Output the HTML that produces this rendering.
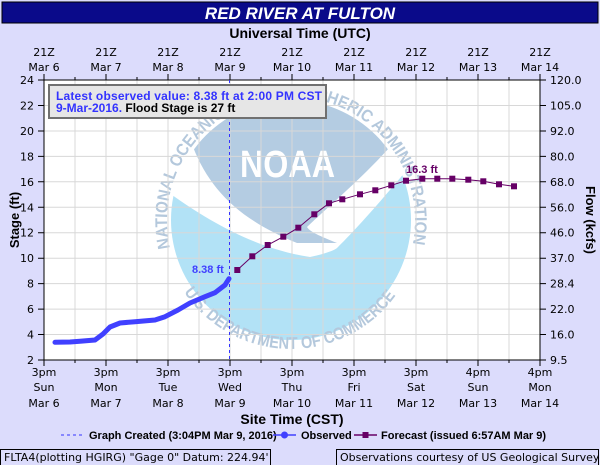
<!DOCTYPE html>
<html><head><meta charset="utf-8"><style>
body{margin:0;background:#dcdcfc;}
svg{display:block;font-family:"DejaVu Sans","Liberation Sans",sans-serif;}
</style></head><body>
<svg width="600" height="465" viewBox="0 0 600 465" xmlns="http://www.w3.org/2000/svg">
<rect width="600" height="465" fill="#dcdcfc"/>
<rect x="2" y="2" width="596" height="21" fill="#0a0a8a" stroke="#000" stroke-width="1"/>
<text x="300" y="19" font-family="Liberation Sans,sans-serif" font-size="17" font-weight="bold" font-style="italic" fill="#fff" text-anchor="middle">RED RIVER AT FULTON</text>
<text x="300" y="38" font-family="Liberation Sans,sans-serif" font-size="14" font-weight="bold" fill="#000" text-anchor="middle">Universal Time (UTC)</text>
<g font-size="11" fill="#000" text-anchor="middle">
<text x="44" y="56">21Z</text><text x="44" y="71">Mar  6</text>
<text x="106" y="56">21Z</text><text x="106" y="71">Mar  7</text>
<text x="168" y="56">21Z</text><text x="168" y="71">Mar  8</text>
<text x="230" y="56">21Z</text><text x="230" y="71">Mar  9</text>
<text x="292" y="56">21Z</text><text x="292" y="71">Mar 10</text>
<text x="354" y="56">21Z</text><text x="354" y="71">Mar 11</text>
<text x="416" y="56">21Z</text><text x="416" y="71">Mar 12</text>
<text x="478" y="56">21Z</text><text x="478" y="71">Mar 13</text>
<text x="540" y="56">21Z</text><text x="540" y="71">Mar 14</text>
</g>
<rect x="44" y="80" width="496" height="280" fill="#fff"/>
<defs>
<clipPath id="disc"><circle cx="291" cy="220" r="120"/></clipPath>
<path id="arcTop" d="M170,248 A124,124 0 1 1 412,248"/>
<path id="arcBot" d="M184,292 A129,129 0 0 0 398,292"/>
</defs>
<g clip-path="url(#disc)">
<path d="M193,147 C210,190 240,220 297,243 L337,243 C320,236 310,232 307,227 C330,205 360,180 390,147 L415,147 L415,95 L165,95 L165,147 Z" fill="#b4cce2"/>
<path d="M165,190 C200,215 250,248 310,257 C325,254 335,250 337,248 C345,240 370,215 415,160 L415,345 L165,345 Z" fill="#b2e2f6"/>
</g>
<text x="240" y="177" font-family="Liberation Sans,sans-serif" font-size="38" font-weight="bold" fill="#fff" textLength="95" lengthAdjust="spacingAndGlyphs">NOAA</text>
<g font-family="Liberation Sans,sans-serif" font-size="17" font-weight="bold" fill="#b4c8dc">
<text><textPath href="#arcTop" textLength="440" lengthAdjust="spacingAndGlyphs">NATIONAL OCEANIC AND ATMOSPHERIC ADMINISTRATION</textPath></text>
<text><textPath href="#arcBot" textLength="248" lengthAdjust="spacingAndGlyphs">U.S. DEPARTMENT OF COMMERCE</textPath></text>
</g>
<g stroke="#d8d8d8" stroke-width="1">
<path d="M75,80V360M106,80V360M137,80V360M168,80V360M199,80V360M230,80V360M261,80V360M292,80V360M323,80V360M354,80V360M385,80V360M416,80V360M447,80V360M478,80V360M509,80V360"/>
<path d="M44,105.5H540M44,131H540M44,156.4H540M44,181.8H540M44,207.3H540M44,232.7H540M44,258.2H540M44,283.6H540M44,309.1H540M44,334.5H540"/>
</g>
<rect x="44" y="80" width="496" height="280" fill="none" stroke="#000" stroke-width="1"/>
<g stroke="#000">
<path d="M44,360V366M106,360V366M168,360V366M230,360V366M292,360V366M354,360V366M416,360V366M478,360V366M540,360V366"/>
<path d="M75,360V363M137,360V363M199,360V363M261,360V363M323,360V363M385,360V363M447,360V363M509,360V363"/>
<path d="M44,80V74M106,80V74M168,80V74M230,80V74M292,80V74M354,80V74M416,80V74M478,80V74M540,80V74"/>
<path d="M75,80V77M137,80V77M199,80V77M261,80V77M323,80V77M385,80V77M447,80V77M509,80V77"/>
<path d="M38,80H44M38,105.5H44M38,131H44M38,156.4H44M38,181.8H44M38,207.3H44M38,232.7H44M38,258.2H44M38,283.6H44M38,309.1H44M38,334.5H44M38,360H44"/>
<path d="M540,80H546M540,105.5H546M540,131H546M540,156.4H546M540,181.8H546M540,207.3H546M540,232.7H546M540,258.2H546M540,283.6H546M540,309.1H546M540,334.5H546M540,360H546"/>
</g>
<g font-size="11" fill="#000" text-anchor="end">
<text x="34" y="84">24</text><text x="34" y="109.5">22</text><text x="34" y="135">20</text><text x="34" y="160.4">18</text><text x="34" y="185.8">16</text><text x="34" y="211.3">14</text><text x="34" y="236.7">12</text><text x="34" y="262.2">10</text><text x="34" y="287.6">8</text><text x="34" y="313.1">6</text><text x="34" y="338.5">4</text><text x="34" y="364">2</text>
</g>
<g font-size="11" fill="#000">
<text x="550" y="84">120.0</text><text x="550" y="109.5">105.0</text><text x="550" y="135">92.0</text><text x="550" y="160.4">80.0</text><text x="550" y="185.8">68.0</text><text x="550" y="211.3">56.0</text><text x="550" y="236.7">46.0</text><text x="550" y="262.2">37.0</text><text x="550" y="287.6">28.4</text><text x="550" y="313.1">22.0</text><text x="550" y="338.5">16.0</text><text x="550" y="364">9.5</text>
</g>
<text transform="translate(19,220) rotate(-90)" font-family="Liberation Sans,sans-serif" font-size="13" font-weight="bold" text-anchor="middle">Stage (ft)</text>
<text transform="translate(586,220) rotate(90)" font-family="Liberation Sans,sans-serif" font-size="13" font-weight="bold" text-anchor="middle">Flow (kcfs)</text>
<g font-size="11" fill="#000" text-anchor="middle">
<text x="44" y="376">3pm</text><text x="44" y="391">Sun</text><text x="44" y="407">Mar 6</text>
<text x="106" y="376">3pm</text><text x="106" y="391">Mon</text><text x="106" y="407">Mar 7</text>
<text x="168" y="376">3pm</text><text x="168" y="391">Tue</text><text x="168" y="407">Mar 8</text>
<text x="230" y="376">3pm</text><text x="230" y="391">Wed</text><text x="230" y="407">Mar 9</text>
<text x="292" y="376">3pm</text><text x="292" y="391">Thu</text><text x="292" y="407">Mar 10</text>
<text x="354" y="376">3pm</text><text x="354" y="391">Fri</text><text x="354" y="407">Mar 11</text>
<text x="416" y="376">3pm</text><text x="416" y="391">Sat</text><text x="416" y="407">Mar 12</text>
<text x="478" y="376">4pm</text><text x="478" y="391">Sun</text><text x="478" y="407">Mar 13</text>
<text x="540" y="376">4pm</text><text x="540" y="391">Mon</text><text x="540" y="407">Mar 14</text>
</g>
<text x="292" y="424" font-family="Liberation Sans,sans-serif" font-size="14" font-weight="bold" text-anchor="middle">Site Time (CST)</text>
<line x1="229.5" y1="80" x2="229.5" y2="360" stroke="#3333ff" stroke-dasharray="3,3" stroke-width="1"/>
<polyline fill="none" stroke="#4040ff" stroke-width="5" stroke-linecap="round" stroke-linejoin="round" points="55,342.3 70,342 80,341.3 95,340 103,334 110,327 120,323 135,321.7 155,320 165,316.7 178,310 190,303 205,296.7 215,292.7 225,285 229,278.7"/>
<polyline fill="none" stroke="#660066" stroke-width="1" points="237.3,270 252.3,256.3 267.7,245 283.3,236.7 298.3,227.7 314.3,214.3 329,203.3 342.3,199.3 360,194.3 375.3,190.3 391.3,185.3 406,180.7 422.3,178.7 437.3,178.7 452.3,178.7 468.3,179.7 483.3,181.3 499,184.3 514,186.3"/>
<g fill="#660066">
<rect x="234.3" y="267" width="6" height="6"/><rect x="249.3" y="253.3" width="6" height="6"/><rect x="264.7" y="242" width="6" height="6"/><rect x="280.3" y="233.7" width="6" height="6"/><rect x="295.3" y="224.7" width="6" height="6"/><rect x="311.3" y="211.3" width="6" height="6"/><rect x="326" y="200.3" width="6" height="6"/><rect x="339.3" y="196.3" width="6" height="6"/><rect x="357" y="191.3" width="6" height="6"/><rect x="372.3" y="187.3" width="6" height="6"/><rect x="388.3" y="182.3" width="6" height="6"/><rect x="403" y="177.7" width="6" height="6"/><rect x="419.3" y="175.7" width="6" height="6"/><rect x="434.3" y="175.7" width="6" height="6"/><rect x="449.3" y="175.7" width="6" height="6"/><rect x="465.3" y="176.7" width="6" height="6"/><rect x="480.3" y="178.3" width="6" height="6"/><rect x="496" y="181.3" width="6" height="6"/><rect x="511" y="183.3" width="6" height="6"/>
</g>
<text x="192" y="273" font-family="Liberation Sans,sans-serif" font-size="11" font-weight="bold" fill="#4040ff">8.38 ft</text>
<text x="406" y="173" font-family="Liberation Sans,sans-serif" font-size="11" font-weight="bold" fill="#660066">16.3 ft</text>
<rect x="49" y="85" width="277" height="33" fill="#e6e6e6" stroke="#707070" stroke-width="2"/>
<text x="56" y="100" font-family="Liberation Sans,sans-serif" font-size="12" font-weight="bold" fill="#3333ff" textLength="266" lengthAdjust="spacing">Latest observed value: 8.38 ft at 2:00 PM CST</text>
<text x="56" y="112" font-family="Liberation Sans,sans-serif" font-size="12" font-weight="bold" fill="#3333ff">9-Mar-2016.  <tspan fill="#000">Flood Stage is 27 ft</tspan></text>
<line x1="61" y1="435" x2="83" y2="435" stroke="#3333ff" stroke-dasharray="3,3"/>
<text x="89" y="439" font-family="Liberation Sans,sans-serif" font-size="11" font-weight="bold">Graph Created (3:04PM Mar 9, 2016)</text>
<line x1="273" y1="435" x2="296" y2="435" stroke="#4040ff" stroke-width="1.5"/>
<circle cx="284.5" cy="435" r="3.5" fill="#4040ff"/>
<text x="301" y="439" font-family="Liberation Sans,sans-serif" font-size="11" font-weight="bold">Observed</text>
<line x1="354" y1="435" x2="377" y2="435" stroke="#660066" stroke-width="1.5"/>
<rect x="362.5" y="432" width="6" height="6" fill="#660066"/>
<text x="381" y="439" font-family="Liberation Sans,sans-serif" font-size="11" font-weight="bold">Forecast (issued 6:57AM Mar 9)</text>
<rect x="0.5" y="449.5" width="270" height="17" fill="#dcdcfc" stroke="#000"/>
<text x="4" y="461" font-size="11">FLTA4(plotting HGIRG) "Gage 0" Datum: 224.94'</text>
<rect x="336.5" y="449.5" width="262" height="17" fill="#dcdcfc" stroke="#000"/>
<text x="340" y="461" font-size="11">Observations courtesy of US Geological Survey</text>
</svg>
</body></html>
